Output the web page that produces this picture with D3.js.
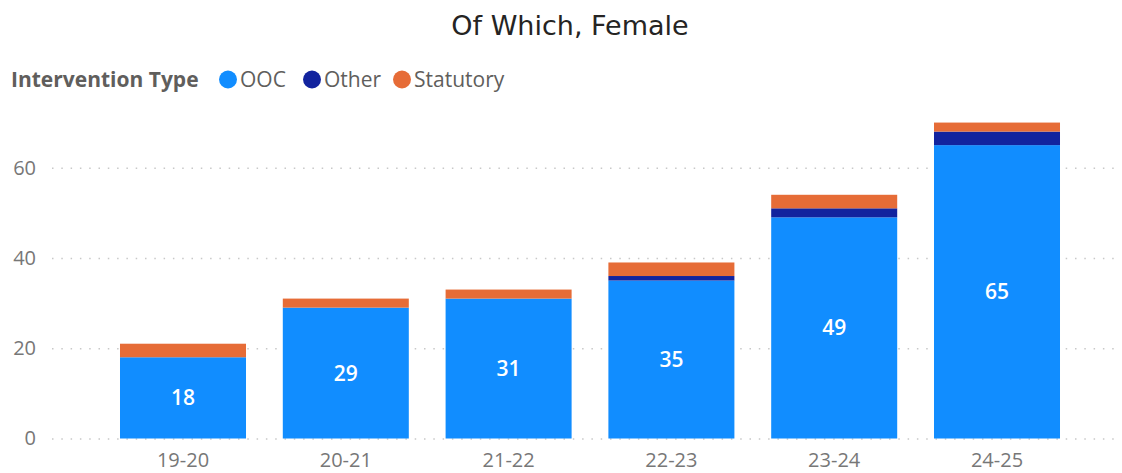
<!DOCTYPE html>
<html>
<head>
<meta charset="utf-8">
<script src="https://cdn.jsdelivr.net/npm/d3@7"></script>
<style>
  html, body { margin: 0; padding: 0; background: #fff; }
  svg { display: block; }
</style>
</head>
<body>
<div id="chart"></div>
<script>
// Academic years on the x axis
const years = ["19-20", "20-21", "21-22", "22-23", "23-24", "24-25"];
// Intervention counts per year
const ooc = [18, 29, 31, 35, 49, 65];
const other = [0, 0, 0, 1, 2, 3];
const statutory = [3, 2, 2, 3, 3, 2];
const seriesNames = ["OOC", "Other", "Statutory"];
const seriesColors = ["#118DFF", "#12239E", "#E66C37"];
const yTicks = [0, 20, 40, 60];

const W = 1122, H = 473;
const svg = d3.select("#chart").append("svg").attr("width", W).attr("height", H);
const font = "'Open Sans', 'Noto Sans', sans-serif";

const rows = years.map((y, i) => ({ year: y, OOC: ooc[i], Other: other[i], Statutory: statutory[i] }));
const stacked = d3.stack().keys(seriesNames)(rows);

const x = d3.scaleBand().domain(years).range([101.6, 1078.4]).paddingInner(0.226).paddingOuter(0.113);
const y = d3.scaleLinear().domain([0, 60]).range([438.5, 167.7]);

// Title
svg.append("text")
  .attr("x", 570).attr("y", 35)
  .attr("text-anchor", "middle")
  .attr("font-family", "'DejaVu Sans', sans-serif")
  .attr("font-size", 27)
  .attr("fill", "#252423")
  .text("Of Which, Female");

// Legend
const legend = svg.append("g").attr("font-family", font);
legend.append("text")
  .attr("x", 11).attr("y", 86.5)
  .attr("font-size", 21).attr("font-weight", "bold").attr("fill", "#605E5C")
  .text("Intervention Type");
const legendX = [228, 312, 402];
seriesNames.forEach((name, i) => {
  legend.append("circle").attr("cx", legendX[i]).attr("cy", 79.5).attr("r", 9).attr("fill", seriesColors[i]);
  legend.append("text")
    .attr("x", legendX[i] + 12).attr("y", 86.5)
    .attr("font-size", 21).attr("fill", "#605E5C")
    .text(name);
});

// Gridlines and y axis labels
const yAxis = d3.axisLeft(y).tickValues(yTicks).tickSize(-(1115 - 52)).tickPadding(16);
const yg = svg.append("g").attr("transform", "translate(52,0)").call(yAxis);
yg.select(".domain").remove();
yg.selectAll(".tick line")
  .attr("stroke", "#C8C8C8").attr("stroke-width", 1.5)
  .attr("stroke-dasharray", "1.5,7.8");
yg.selectAll(".tick text")
  .attr("font-family", font).attr("font-size", 20).attr("fill", "#777");

// Stacked bars
const colorOf = d3.scaleOrdinal().domain(seriesNames).range(seriesColors);
svg.append("g").selectAll("g").data(stacked).join("g")
  .attr("fill", d => colorOf(d.key))
  .selectAll("rect").data(d => d).join("rect")
  .attr("x", d => x(d.data.year))
  .attr("width", x.bandwidth())
  .attr("y", d => y(d[1]))
  .attr("height", d => y(d[0]) - y(d[1]));

// Data labels on the OOC segment
svg.append("g").selectAll("text").data(stacked[0]).join("text")
  .attr("x", d => x(d.data.year) + x.bandwidth() / 2)
  .attr("y", d => (y(d[0]) + y(d[1])) / 2)
  .attr("dy", "0.36em")
  .attr("text-anchor", "middle")
  .attr("font-family", font).attr("font-size", 21).attr("font-weight", 600)
  .attr("fill", "#fff")
  .text(d => d.data.OOC);

// X axis labels
const xAxis = d3.axisBottom(x).tickSize(0).tickPadding(0);
const xg = svg.append("g").attr("transform", "translate(0,450)").call(xAxis);
xg.select(".domain").remove();
xg.selectAll(".tick text")
  .attr("font-family", font).attr("font-size", 20).attr("fill", "#777")
  .attr("dy", "0.86em");
</script>
</body>
</html>
